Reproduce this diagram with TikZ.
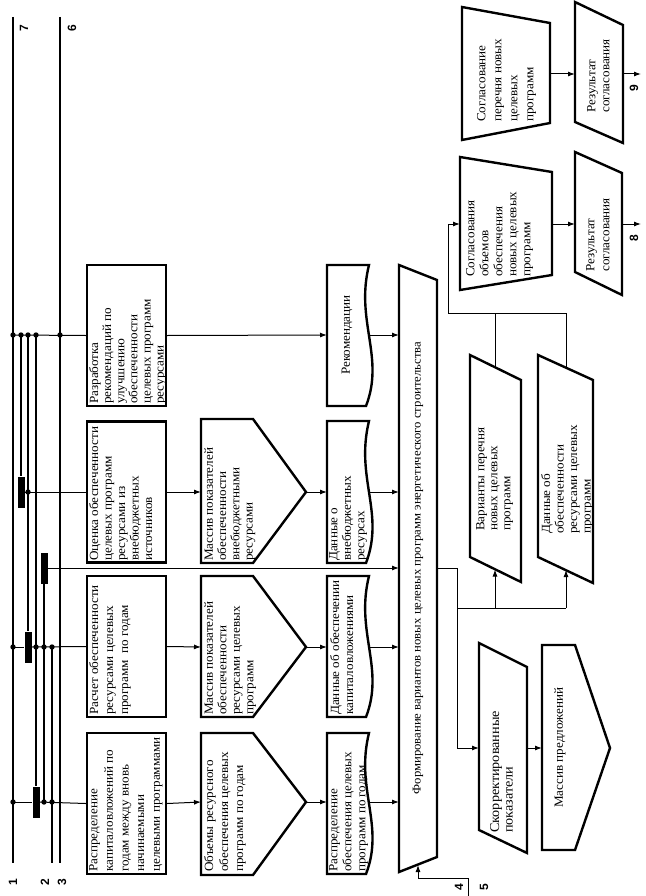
\documentclass[tikz,border=0pt]{standalone}
\usepackage{fontspec}
\setmainfont{Liberation Serif}
\setsansfont{Liberation Sans}
\usetikzlibrary{arrows.meta}

\tikzset{
  shp/.style={line width=2.4pt, line join=miter},
  box/.style={draw, line width=2.4pt, minimum width=79pt, minimum height=141pt, inner sep=0pt},
  bus/.style={line width=1.3pt},
  con/.style={line width=1pt},
  arr/.style={con, -{Latex[length=7pt,width=5pt]}},
  bar/.style={fill=black, minimum width=7pt, minimum height=31pt, inner sep=0pt},
  txt/.style={yscale=1.05, rotate=90, anchor=north west, align=left, inner sep=0pt,
    font=\fontsize{12.5}{#1}\selectfont},
  txt/.default=14,
  num/.style={rotate=90, inner sep=0pt, font=\sffamily\bfseries\fontsize{12}{12}\selectfont},
}

\begin{document}
\begin{tikzpicture}[x=1pt,y=-1pt]
    \useasboundingbox (0,0) rectangle (645,896);

    % bus lines on the left
    \coordinate (L1t) at (13,17);
    \coordinate (L1b) at (13,863);
    \coordinate (L3t) at (60,17);
    \coordinate (L3b) at (60,863);
    \coordinate (L2t) at (52,647);
    \coordinate (L2b) at (52,863);
    \draw[bus] (L1t) -- (L1b);
    \draw[bus] (L3t) -- (L3b);
    \draw[bus] (L2t) -- (L2b);

    \node[bar] (k1) at (21,492) {};
    \node[bar] (k2) at (44,568) {};
    \node[bar] (k3) at (28,647) {};
    \node[bar] (k4) at (36,802) {};

    \draw[bus] (21,335) -- (k1.north);
    \draw[bus] (28,335) -- (k3.north);
    \draw[bus] (36,335) -- (k4.north);
    \draw[bus] (k2.south) -- (44,802);

    % process boxes
    \node[box] (b1) at (126.5,335.5) {};
    \node[box] (b2) at (126.5,492) {};
    \node[box] (b3) at (126.5,646.5) {};
    \node[box] (b4) at (126.5,803.5) {};

    \node[txt=13.1] (t1) at (89,404) {Разработка\\рекомендаций по\\улучшению\\обеспеченности\\целевых программ\\ресурсами};
    \node[txt=13.5] (t2) at (89,561) {Оценка обеспеченности\\целевых программ\\ресурсами из\\внебюджетных\\источников};
    \node[txt=15] (t3) at (89,715) {Расчет обеспеченности\\ресурсами целевых\\программ~ по годам};
    \node[txt=15.6] (t4) at (89,872) {Распределение\\капиталовложений по\\годам между вновь\\начинаемыми\\целевыми программами};

    % arrays
    \draw[shp] (201,419) -- (253,419) -- (306,492) -- (253,563) -- (201,563) -- cycle;
    \draw[shp] (201,576) -- (253,576) -- (306,647) -- (253,717) -- (201,717) -- cycle;
    \draw[shp] (201,733) -- (253,733) -- (306,802) -- (253,875) -- (201,875) -- cycle;
    \coordinate (m1w) at (201,492);
    \coordinate (m1e) at (306,492);
    \coordinate (m2w) at (201,647);
    \coordinate (m2e) at (306,647);
    \coordinate (m3w) at (201,802);
    \coordinate (m3e) at (306,802);

    \node[txt=13.3] (t5) at (204,561) {Массив показателей\\обеспеченности\\внебюджетными\\ресурсами};
    \node[txt=13.5] (t6) at (204,715) {Массив показателей\\обеспеченности\\ресурсами целевых\\программ};
    \node[txt=15] (t7) at (204,872) {Объемы ресурсного\\обеспечения целевых\\программ по годам};

    % documents
    \draw[shp] (327,265) -- (369,265) .. controls (355,321) and (385,357) .. (366,406) -- (327,406) -- cycle;
    \draw[shp] (327,421) -- (369,421) .. controls (355,478) and (385,513) .. (366,563) -- (327,563) -- cycle;
    \draw[shp] (327,576) -- (369,576) .. controls (355,632) and (385,668) .. (366,717) -- (327,717) -- cycle;
    \draw[shp] (327,733) -- (369,733) .. controls (355,789) and (385,825) .. (366,874) -- (327,874) -- cycle;
    \coordinate (d1w) at (327,335);
    \coordinate (d1e) at (370,335);
    \coordinate (d2w) at (327,492);
    \coordinate (d2e) at (370,492);
    \coordinate (d3w) at (327,647);
    \coordinate (d3e) at (370,647);
    \coordinate (d4w) at (327,802);
    \coordinate (d4e) at (370,802);

    \node[yscale=1.05, rotate=90, inner sep=0pt, font=\fontsize{12.5}{14}\selectfont] (t8) at (347,335) {Рекомендации};
    \node[txt=13.5] (t9) at (329,561) {Данные о\\внебюджетных\\ресурсах};
    \node[txt=14] (t10) at (330,715) {Данные об обеспечении\\капиталовложениями};
    \node[txt=14] (t11) at (329,872) {Распределение\\обеспечения целевых\\программ по годам};

    % forming of variants
    \draw[shp] (399,265) -- (437,280) -- (437,857) -- (399,872) -- cycle;
    \coordinate (f1) at (399,335);
    \coordinate (f2) at (399,492);
    \coordinate (f3) at (399,568);
    \coordinate (f4) at (399,647);
    \coordinate (f5) at (399,802);
    \coordinate (fout) at (437,568);
    \coordinate (fbot) at (418,865);
    \node[yscale=1.06, rotate=90, inner sep=0pt, font=\fontsize{12}{14}\selectfont] (tf) at (418,568)
      {Формирование вариантов новых целевых программ энергетического строительства};

    % right part
    \draw[shp] (470,355) -- (521,380) -- (521,582) -- (470,557) -- cycle;
    \draw[shp] (538,355) -- (593,380) -- (593,583) -- (538,557) -- cycle;
    \coordinate (v1in) at (495,569.5);
    \coordinate (v1out) at (495,367.5);
    \coordinate (v2in) at (566,570);
    \coordinate (v2out) at (566,368);
    \node[txt=13] (t12) at (476,531) {Варианты перечня\\новых целевых\\программ};
    \node[txt=13.5] (t13) at (541,534) {Данные об\\обеспеченности\\ресурсами целевых\\программ};

    \draw[shp] (460,157) -- (552,172) -- (552,275) -- (460,290) -- cycle;
    \draw[shp] (462,7) -- (550,23) -- (550,123) -- (462,140) -- cycle;
    \coordinate (s1in) at (460,224);
    \coordinate (s1out) at (552,224);
    \coordinate (s2out) at (550,74);
    \node[txt=14] (t14) at (466,277) {Согласования\\объемов\\обеспечения\\новых целевых\\программ};
    \node[txt=16] (t15) at (477,122) {Согласование\\перечня новых\\целевых\\программ};

    \draw[shp] (575,152) -- (622,173) -- (622,295) -- (575,272) -- cycle;
    \draw[shp] (575,2) -- (623,25) -- (623,143) -- (575,122) -- cycle;
    \coordinate (r1in) at (575,224);
    \coordinate (r1out) at (622,224);
    \coordinate (r2in) at (575,74);
    \coordinate (r2out) at (623,74);
    \coordinate (o8) at (641,224);
    \coordinate (o9) at (641,74);
    \node[txt=15] (t16) at (586,272) {Результат\\согласования};
    \node[txt=14] (t17) at (587,113) {Результат\\согласования};

    \draw[shp] (479,643) -- (527,667) -- (527,853) -- (479,830) -- cycle;
    \draw[shp] (542,645) -- (575,645) -- (610,748) -- (575,850) -- (542,850) -- cycle;
    \coordinate (kin) at (479,748);
    \coordinate (kout) at (527,748);
    \coordinate (pin) at (542,748);
    \node[txt=13.5, font=\fontsize{13.5}{13.5}\selectfont] (t18) at (490,833) {Скорректированные\\показатели};
    \node[txt] (t19) at (554,808) {Массив предложений};

    % connectors
    \draw[con] (13,335) -- (b1.west);
    \draw[con] (k1.east) -- (b2.west);
    \draw[con] (13,647) -- (k3.west);
    \draw[con] (k3.east) -- (b3.west);
    \draw[con] (13,802) -- (k4.west);
    \draw[con] (k4.east) -- (b4.west);
    \draw[arr] (k2.east) -- (f3);

    \draw[arr] (b1.east) -- (d1w);
    \draw[arr] (b2.east) -- (m1w);
    \draw[arr] (b3.east) -- (m2w);
    \draw[arr] (b4.east) -- (m3w);
    \draw[arr] (m1e) -- (d2w);
    \draw[arr] (m2e) -- (d3w);
    \draw[arr] (m3e) -- (d4w);
    \draw[arr] (d1e) -- (f1);
    \draw[arr] (d2e) -- (f2);
    \draw[arr] (d3e) -- (f4);
    \draw[arr] (d4e) -- (f5);

    \draw[arr] (fout) -- (457,568) |- (kin);
    \draw[con] (457,608) -- (566,608);
    \draw[arr] (495,608) -- (v1in);
    \draw[arr] (566,608) -- (v2in);
    \draw[con] (v1out) -- (495,313);
    \draw[arr] (v2out) -- (566,313) -- (448,313) |- (s1in);
    \draw[arr] (s1out) -- (r1in);
    \draw[arr] (s2out) -- (r2in);
    \draw[arr] (r1out) -- (o8);
    \draw[arr] (r2out) -- (o9);
    \draw[arr] (kout) -- (pin);
    \draw[arr] (468,878) -| (fbot);
    \draw[con] (468,878) -- (468,896);

    % junction dots
    \foreach \p in {(13,335),(21,335),(28,335),(36,335),(60,335),(28,492),
                    (13,647),(36,647),(44,647),(52,647),(13,802),(44,802),(52,802)}
      \fill \p circle (2.7);

    % labels
    \node[num] (n1) at (13,882) {1};
    \node[num] (n2) at (45,882) {2};
    \node[num] (n3) at (62,882) {3};
    \node[num] (n7) at (24,28) {7};
    \node[num] (n6) at (72,28) {6};
    \node[num] (n4) at (459,887) {4};
    \node[num] (n5) at (484,887) {5};
    \node[num] (n8) at (634,238) {8};
    \node[num] (n9) at (634,88) {9};

\end{tikzpicture}
\end{document}
